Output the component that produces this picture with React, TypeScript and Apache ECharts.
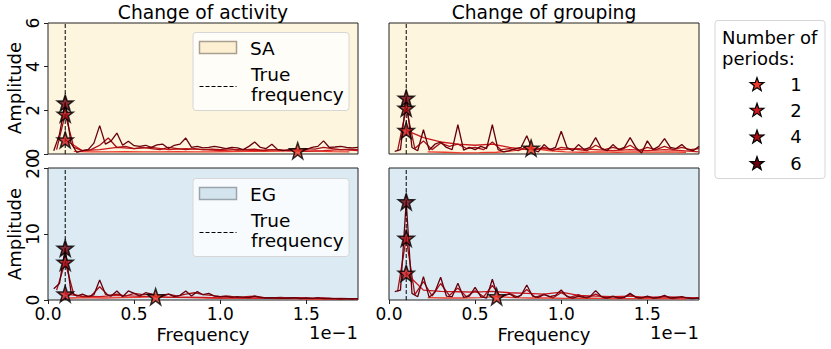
import { useEffect, useRef } from "react";
import * as echarts from "echarts";

// ---------------- data ----------------
const PERIODS = ["1", "2", "4", "6"];
const PERIOD_COLORS = ["#ef3b2c", "#cb181d", "#a50f15", "#67000d"];
const X_TICKS = [0, 0.5, 1.0, 1.5];
const X_MAX = 1.8;
const TRUE_FREQUENCY = 0.1;
const SA_Y_MAX = 6;
const SA_Y_INTERVAL = 2;
const EG_Y_MAX = 20;
const EG_Y_INTERVAL = 10;
const COLUMN_TITLES = ["Change of activity", "Change of grouping"];

// frequency grids (units of 1e-1) for 2, 4 and 6 periods
const START_2 = 0.1;
const STEP_2 = 0.1;
const START_4 = 0.05;
const STEP_4 = 0.05;
const START_6 = 1 / 30;
const STEP_6 = 1 / 30;

// SA – change of activity
const saActivity1Freq = [0.15, 0.25, 0.35, 0.45, 0.55, 0.65, 0.75, 0.85, 0.95, 1.05, 1.15, 1.25, 1.35, 1.45, 1.55, 1.65, 1.75];
const saActivity1 = [0.12, 0.1, 0.1, 0.11, 0.1, 0.1, 0.11, 0.1, 0.1, 0.11, 0.12, 0.12, 0.13, 0.15, 0.13, 0.11, 0.1];
const saActivity2 = [0.65, 0.15, 0.2, 0.3, 0.25, 0.3, 0.2, 0.25, 0.2, 0.15, 0.2, 0.15, 0.2, 0.15, 0.12, 0.15, 0.2, 0.15];
const saActivity4 = [0.2, 1.83, 0.3, 0.15, 0.2, 0.4, 0.73, 0.3, 0.35, 0.25, 0.3, 0.25, 0.2, 0.3, 0.25, 0.2, 0.25, 0.2, 0.22, 0.2, 0.25, 0.18, 0.2, 0.22, 0.15, 0.2, 0.18, 0.15, 0.2, 0.25, 0.22, 0.3, 0.25, 0.2, 0.22, 0.2];
const saActivity6 = [0.15, 0.9, 2.34, 0.5, 0.08, 0.15, 0.2, 0.5, 1.3, 0.45, 0.6, 0.96, 0.4, 0.58, 0.38, 0.35, 0.4, 0.3, 0.42, 0.45, 0.25, 0.4, 0.45, 0.73, 0.3, 0.35, 0.28, 0.3, 0.35, 0.3, 0.25, 0.3, 0.28, 0.2, 0.35, 0.55, 0.3, 0.25, 0.45, 0.2, 0.15, 0.2, 0.25, 0.15, 0.2, 0.3, 0.35, 0.6, 0.3, 0.32, 0.35, 0.3, 0.28, 0.3];

// SA – change of grouping
const saGrouping1Freq = [0.225, 0.325, 0.425, 0.525, 0.625, 0.725, 0.825, 0.925, 1.025, 1.125, 1.225, 1.325, 1.425, 1.525, 1.625, 1.725];
const saGrouping1 = [0.1, 0.08, 0.05, 0.06, 0.08, 0.15, 0.27, 0.15, 0.1, 0.08, 0.1, 0.08, 0.1, 0.09, 0.1, 0.08];
const saGrouping2 = [1.08, 0.75, 0.55, 0.45, 0.4, 0.45, 0.3, 0.2, 0.25, 0.2, 0.25, 0.2, 0.15, 0.2, 0.15, 0.2, 0.15, 0.1];
const saGrouping4 = [0.15, 2.1, 0.25, 0.6, 0.2, 0.5, 0.35, 0.45, 0.25, 0.3, 0.2, 0.55, 0.2, 0.25, 0.15, 0.35, 0.2, 0.3, 0.15, 0.3, 0.25, 0.2, 0.15, 0.4, 0.2, 0.3, 0.2, 0.4, 0.15, 0.3, 0.2, 0.35, 0.2, 0.3, 0.2, 0.25];
const saGrouping6 = [0.12, 0.2, 2.56, 0.3, 0.15, 1.11, 0.18, 0.45, 0.55, 0.3, 0.2, 1.34, 0.18, 0.3, 0.2, 0.35, 0.25, 1.34, 0.2, 0.1, 0.15, 0.25, 0.3, 0.84, 0.2, 0.1, 0.43, 0.2, 0.3, 1.04, 0.3, 0.15, 0.43, 0.2, 0.3, 0.75, 0.25, 0.15, 0.43, 0.2, 0.3, 0.75, 0.3, 0.05, 0.6, 0.2, 0.35, 0.7, 0.3, 0.25, 0.43, 0.2, 0.15, 0.35];

// EG – change of activity
const egActivity1Freq = [0.125, 0.225, 0.325, 0.425, 0.525, 0.625, 0.725, 0.825, 0.925, 1.025, 1.125, 1.225, 1.325, 1.425, 1.525, 1.625, 1.725];
const egActivity1 = [0.3, 0.35, 0.3, 0.35, 0.4, 0.5, 0.4, 0.35, 0.3, 0.3, 0.25, 0.3, 0.2, 0.2, 0.15, 0.15, 0.1];
const egActivity2 = [0.91, 0.6, 0.5, 0.7, 0.6, 0.5, 0.4, 0.45, 0.4, 0.3, 0.35, 0.3, 0.25, 0.3, 0.2, 0.25, 0.2, 0.15];
const egActivity4 = [1.5, 5.72, 0.8, 0.5, 0.6, 2.0, 0.7, 0.9, 0.6, 1.0, 0.8, 0.9, 0.7, 0.9, 0.6, 0.9, 1.1, 0.8, 0.7, 0.5, 0.6, 0.4, 0.5, 0.6, 0.4, 0.3, 0.4, 0.3, 0.35, 0.3, 0.25, 0.3, 0.2, 0.25, 0.2, 0.2];
const egActivity6 = [1.7, 2.5, 7.85, 1.2, 0.6, 0.9, 0.5, 0.8, 3.04, 0.9, 0.6, 1.37, 0.5, 1.37, 1.0, 0.6, 1.1, 0.9, 0.4, 0.6, 0.9, 0.5, 0.7, 1.37, 0.6, 1.27, 0.8, 1.0, 0.6, 0.5, 0.6, 0.4, 0.5, 0.4, 0.35, 0.6, 0.4, 0.3, 0.35, 0.3, 0.25, 0.3, 0.35, 0.2, 0.3, 0.25, 0.35, 0.2, 0.25, 0.2, 0.15, 0.2, 0.15, 0.2];

// EG – change of grouping
const egGrouping1Freq = [0.225, 0.325, 0.425, 0.525, 0.625, 0.725, 0.825, 0.925, 1.025, 1.125, 1.225, 1.325, 1.425, 1.525, 1.625, 1.725];
const egGrouping1 = [0.35, 0.3, 0.3, 0.35, 0.5, 0.35, 0.3, 0.3, 0.25, 0.3, 0.25, 0.2, 0.2, 0.25, 0.2, 0.15];
const egGrouping2 = [4.05, 1.5, 1.3, 1.25, 1.2, 1.3, 1.1, 1.0, 0.9, 1.2, 0.7, 0.6, 0.5, 0.6, 0.4, 0.5, 0.4, 0.3];
const egGrouping4 = [1.3, 9.37, 0.8, 2.8, 0.6, 2.5, 0.7, 1.8, 0.5, 1.4, 0.5, 2.2, 0.4, 1.0, 0.4, 1.6, 0.4, 0.9, 0.3, 1.1, 0.4, 0.8, 0.3, 0.9, 0.3, 0.6, 0.3, 0.8, 0.3, 0.5, 0.3, 0.5, 0.2, 0.4, 0.2, 0.3];
const egGrouping6 = [1.27, 1.5, 14.9, 1.0, 0.5, 3.54, 0.4, 1.2, 3.44, 0.6, 0.5, 2.53, 0.4, 0.6, 1.92, 0.5, 0.3, 3.14, 0.4, 0.7, 0.9, 0.4, 0.7, 2.28, 0.6, 0.4, 0.8, 0.5, 0.7, 1.52, 0.5, 0.3, 0.6, 0.4, 0.5, 1.42, 0.5, 0.3, 0.5, 0.3, 0.4, 1.0, 0.4, 0.3, 0.6, 0.3, 0.4, 0.7, 0.3, 0.4, 0.5, 0.3, 0.2, 0.3];

// ---------------- styling ----------------
const FONT = '"DejaVu Sans", "Noto Sans", sans-serif';
const SA_BG = "#fdf5dd";
const EG_BG = "#dcebf3";
const STAR_PATH =
  "path://M50,2 L61.8,36.2 L97.6,36.2 L68.6,57.6 L79.4,92 L50,71 L20.6,92 L31.4,57.6 L2.4,36.2 L38.2,36.2 Z";

const GRIDS = [
  { left: 48, top: 23, width: 310, height: 131, bg: SA_BG },
  { left: 389, top: 23, width: 310, height: 131, bg: SA_BG },
  { left: 48, top: 168, width: 310, height: 132, bg: EG_BG },
  { left: 389, top: 168, width: 310, height: 132, bg: EG_BG },
];

function starPoints(cx: number, cy: number, r: number) {
  const pts: number[][] = [];
  for (let i = 0; i < 10; i++) {
    const rr = i % 2 === 0 ? r : r * 0.4;
    const a = -Math.PI / 2 + (i * Math.PI) / 5;
    pts.push([cx + rr * Math.cos(a), cy + rr * Math.sin(a)]);
  }
  return pts;
}

function txt(text: string, x: number, y: number, size: number, align = "center", extra: any = {}) {
  return {
    type: "text",
    x,
    y,
    silent: true,
    z: 100,
    ...extra,
    style: {
      text,
      x: 0,
      y: 0,
      font: `${size}px ${FONT}`,
      fill: "#000",
      align,
      textAlign: align,
      verticalAlign: "middle",
      textVerticalAlign: "middle",
    },
  };
}

function panelSeries(
  idx: number,
  s1Freq: number[],
  s1: number[],
  s2: number[],
  s4: number[],
  s6: number[],
  yMax: number
) {
  const lines = [
    s1Freq.map((f, i) => [f, s1[i]]),
    s2.map((v, i) => [START_2 + STEP_2 * i, v]),
    s4.map((v, i) => [START_4 + STEP_4 * i, v]),
    s6.map((v, i) => [START_6 + STEP_6 * i, v]),
  ];
  const out: any[] = [];
  lines.forEach((d, k) => {
    out.push({
      type: "line",
      xAxisIndex: idx,
      yAxisIndex: idx,
      data: d,
      symbol: "none",
      showSymbol: false,
      silent: true,
      lineStyle: { color: PERIOD_COLORS[k], width: 1.3 },
      itemStyle: { color: PERIOD_COLORS[k] },
      z: 2,
    });
  });
  out.push({
    type: "line",
    xAxisIndex: idx,
    yAxisIndex: idx,
    data: [
      [TRUE_FREQUENCY, 0],
      [TRUE_FREQUENCY, yMax],
    ],
    symbol: "none",
    silent: true,
    lineStyle: { color: "#000", width: 1, type: [4, 2] },
    z: 3,
  });
  lines.forEach((d, k) => {
    let best = d[0];
    d.forEach((p) => {
      if (p[1] > best[1]) best = p;
    });
    out.push({
      type: "scatter",
      xAxisIndex: idx,
      yAxisIndex: idx,
      data: [best],
      symbol: STAR_PATH,
      symbolSize: 16,
      silent: true,
      itemStyle: { color: PERIOD_COLORS[k], borderColor: "#000", borderWidth: 1.5 },
      z: 5,
    });
  });
  return out;
}

function panelLegend(boxTop: number, label: string, fill: string, edge: string) {
  const left = 193;
  return [
    {
      type: "rect",
      silent: true,
      z: 90,
      shape: { x: left, y: boxTop, width: 156, height: 78, r: 3 },
      style: { fill: "rgba(255,255,255,0.8)", stroke: "#d6d6d6", lineWidth: 1 },
    },
    {
      type: "rect",
      silent: true,
      z: 91,
      shape: { x: left + 6.5, y: boxTop + 9, width: 37, height: 12 },
      style: { fill, stroke: edge, lineWidth: 1.5 },
    },
    txt(label, left + 57, boxTop + 16, 18.5, "left"),
    txt("True", left + 58, boxTop + 42, 18.5, "left"),
    txt("frequency", left + 58, boxTop + 62, 18.5, "left"),
    {
      type: "line",
      silent: true,
      z: 91,
      shape: { x1: left + 6.5, y1: boxTop + 54, x2: left + 43.5, y2: boxTop + 54 },
      style: { stroke: "#000", lineWidth: 1, lineDash: [4, 2] },
    },
  ];
}

export default function App() {
  const ref = useRef<HTMLDivElement>(null);

  useEffect(() => {
    if (!ref.current) return;
    const chart = echarts.init(ref.current, undefined, { renderer: "svg" });

    const yMaxes = [SA_Y_MAX, SA_Y_MAX, EG_Y_MAX, EG_Y_MAX];
    const yIntervals = [SA_Y_INTERVAL, SA_Y_INTERVAL, EG_Y_INTERVAL, EG_Y_INTERVAL];

    const grid = GRIDS.map((g) => ({
      left: g.left,
      top: g.top,
      width: g.width,
      height: g.height,
      show: true,
      backgroundColor: g.bg,
      borderColor: "#222",
      borderWidth: 1,
      containLabel: false,
    }));

    const xAxis = GRIDS.map((_, i) => ({
      type: "value",
      gridIndex: i,
      min: 0,
      max: X_MAX,
      interval: 0.5,
      axisLine: { show: false },
      axisTick: {
        show: i >= 2,
        length: 4,
        lineStyle: { color: "#222", width: 1 },
        customValues: X_TICKS,
      },
      axisLabel: {
        show: i >= 2,
        fontSize: 17,
        lineHeight: 17,
        fontFamily: FONT,
        color: "#000",
        margin: 5,
        customValues: X_TICKS,
        formatter: (v: number) => v.toFixed(1),
      },
      splitLine: { show: false },
    }));

    const yAxis = GRIDS.map((_, i) => ({
      type: "value",
      gridIndex: i,
      min: 0,
      max: yMaxes[i],
      interval: yIntervals[i],
      axisLine: { show: false },
      axisTick: {
        show: i % 2 === 0,
        length: 4,
        lineStyle: { color: "#222", width: 1 },
      },
      axisLabel: {
        show: i % 2 === 0,
        rotate: 90,
        fontSize: 17,
        fontFamily: FONT,
        color: "#000",
        margin: 7,
      },
      splitLine: { show: false },
    }));

    const series = [
      ...panelSeries(0, saActivity1Freq, saActivity1, saActivity2, saActivity4, saActivity6, SA_Y_MAX),
      ...panelSeries(1, saGrouping1Freq, saGrouping1, saGrouping2, saGrouping4, saGrouping6, SA_Y_MAX),
      ...panelSeries(2, egActivity1Freq, egActivity1, egActivity2, egActivity4, egActivity6, EG_Y_MAX),
      ...panelSeries(3, egGrouping1Freq, egGrouping1, egGrouping2, egGrouping4, egGrouping6, EG_Y_MAX),
    ];

    const legendStarYs = [84.3, 110, 136.7, 163.3];
    const graphic: any[] = [
      txt(COLUMN_TITLES[0], 203, 12, 18.7),
      txt(COLUMN_TITLES[1], 544, 12, 18.7),
      txt("Amplitude", 14, 88, 18, "center", { rotation: Math.PI / 2 }),
      txt("Amplitude", 14, 234, 18, "center", { rotation: Math.PI / 2 }),
      txt("Frequency", 203, 334, 18),
      txt("Frequency", 544, 334, 18),
      txt("1e\u22121", 358, 332, 18, "right"),
      txt("1e\u22121", 699, 332, 18, "right"),
      ...panelLegend(32.5, "SA", "#fcefd2", "#a8a090"),
      ...panelLegend(178.5, "EG", "#d3e4ee", "#9aa4ac"),
      {
        type: "rect",
        silent: true,
        z: 90,
        shape: { x: 715, y: 20.5, width: 110, height: 158, r: 3 },
        style: { fill: "#fff", stroke: "#d6d6d6", lineWidth: 1 },
      },
      txt("Number of", 722, 37, 18, "left"),
      txt("periods:", 722, 58.5, 18, "left"),
      ...PERIODS.flatMap((p, k) => [
        {
          type: "polygon",
          silent: true,
          z: 95,
          shape: { points: starPoints(757, legendStarYs[k] + 0.5, 7.2) },
          style: { fill: PERIOD_COLORS[k], stroke: "#000", lineWidth: 1.2 },
        },
        txt(p, 796, legendStarYs[k], 18, "center"),
      ]),
    ];

    chart.setOption({
      animation: false,
      backgroundColor: "#fff",
      grid,
      xAxis,
      yAxis,
      series,
      graphic: { elements: graphic },
    });

    return () => chart.dispose();
  }, []);

  return (
    <div
      ref={ref}
      style={{ position: "absolute", left: 0, top: 0, width: 831, height: 349 }}
    />
  );
}
